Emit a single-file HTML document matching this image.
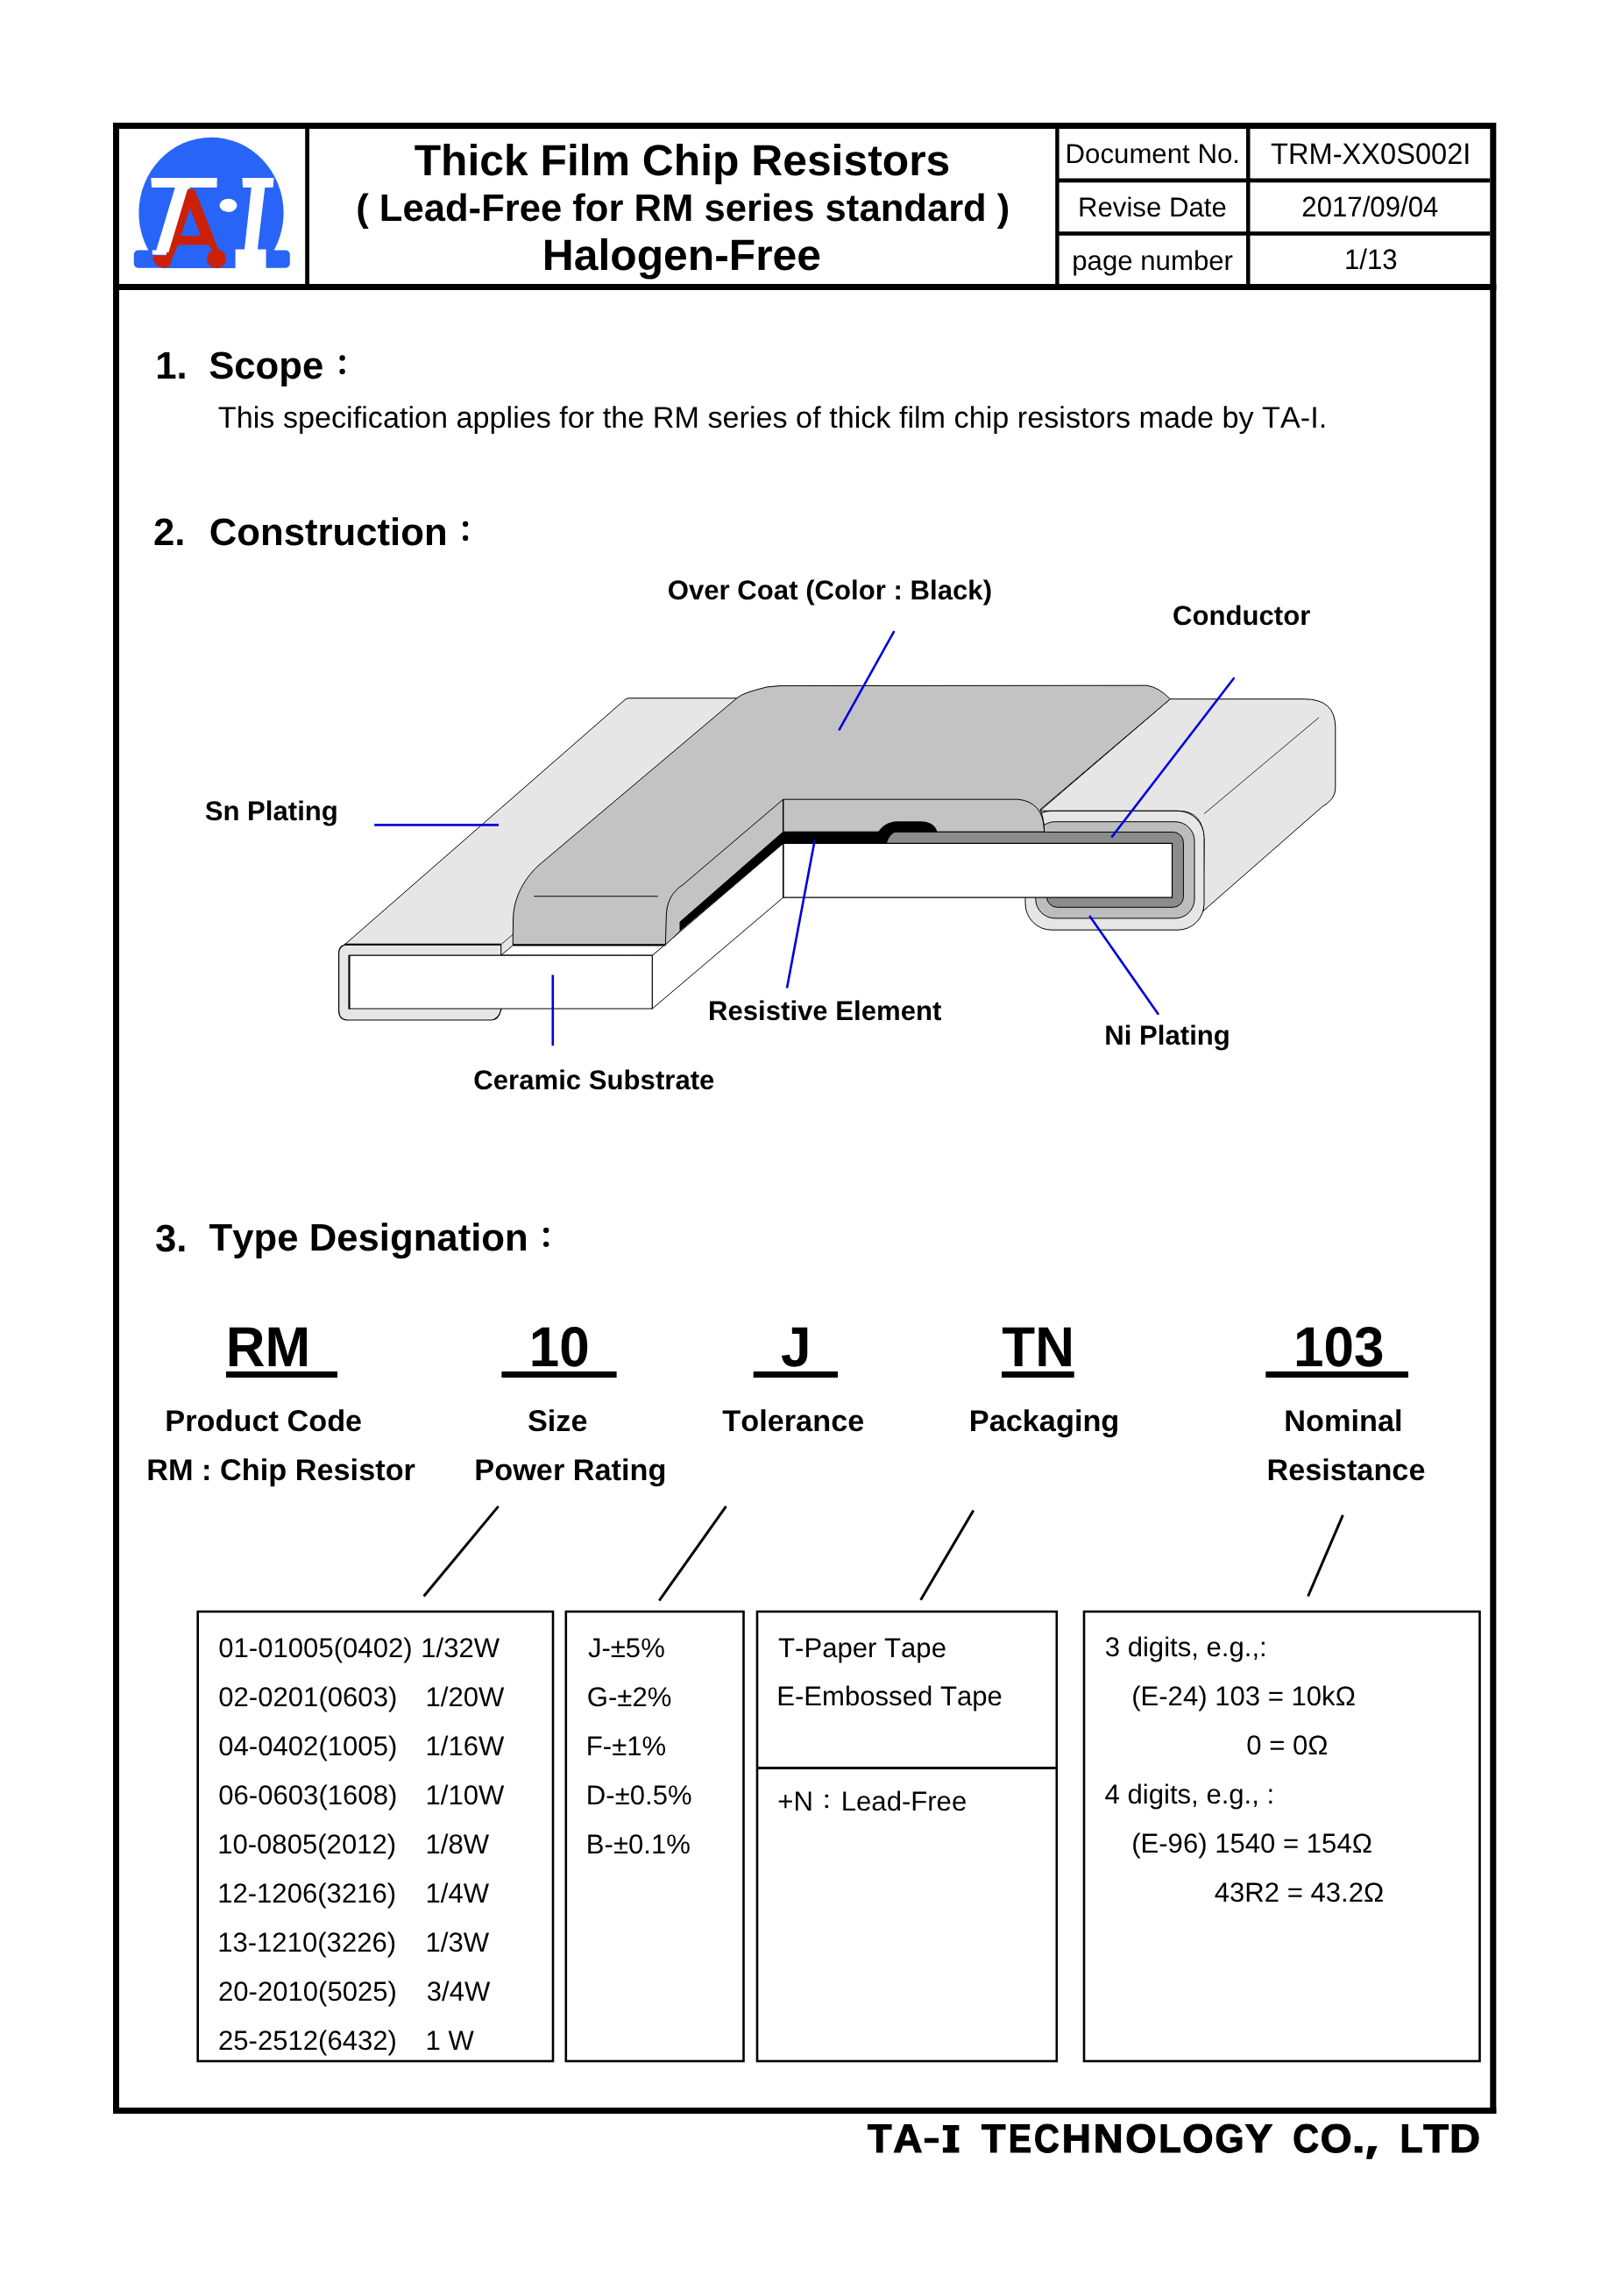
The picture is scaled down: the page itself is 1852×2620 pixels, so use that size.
<!DOCTYPE html>
<html><head><meta charset="utf-8"><title>Thick Film Chip Resistors</title>
<style>
html,body{margin:0;padding:0;background:#fff;}
body{width:1852px;height:2620px;overflow:hidden;}
svg{display:block;will-change:transform;font-family:"Liberation Sans",sans-serif;font-kerning:none;}
text{white-space:pre;}
</style></head><body>
<svg width="1852" height="2620" viewBox="0 0 1852 2620" text-rendering="geometricPrecision">
<rect width="1852" height="2620" fill="#fff"/>
<g id="diagram" stroke-linejoin="round">
<!-- left Sn top face -->
<path d="M393.5,1077.8 L713,798.5 Q715,796.7 718,796.7 L870,796.7 L620,1010 L585.2,1078.4 Z" fill="#e6e6e6" stroke="#000" stroke-width="1"/>
<!-- left front plating wrap -->
<path d="M571.8,1077.8 L397,1077.8 Q386.6,1077.8 386.6,1088 L386.6,1153 Q386.6,1164 397,1164 L560,1164 Q569,1164 571.8,1152 L571.8,1090 Z" fill="#e6e6e6" stroke="#000" stroke-width="1.2"/>
<line x1="393" y1="1077.8" x2="571.8" y2="1077.8" stroke="#000" stroke-width="2"/>
<!-- step face between plating and overcoat -->
<path d="M571.8,1077.8 L585.7,1066 L585.7,1078.6 L571.8,1090.1 Z" fill="#e6e6e6" stroke="#000" stroke-width="0.8"/>
<!-- substrate top strip -->
<path d="M571.8,1090.1 L585.7,1078.4 L759.1,1078.4 L744.4,1090.3 Z" fill="#fff" stroke="#000" stroke-width="0.8"/>
<!-- substrate front -->
<rect x="398.5" y="1090.2" width="345.9" height="60.8" fill="#fff" stroke="#000" stroke-width="1.2"/>
<line x1="398.5" y1="1090" x2="398.5" y2="1151.5" stroke="#000" stroke-width="2"/>
<!-- side face of substrate at cut -->
<path d="M744.4,1090.3 L893.7,962.5 L893.7,1024.2 L744.4,1151 Z" fill="#fff" stroke="#000" stroke-width="1"/>
<!-- right end top + side face -->
<path d="M1186.7,925.3 L1335.3,797.7 L1488.3,797.7 Q1523.8,797.7 1523.8,830 L1523.8,900 Q1523.8,912 1508.3,921 L1373,1039.5 L1374,960 Q1374,925.3 1344.2,925.3 Z" fill="#e6e6e6" stroke="#000" stroke-width="1"/>
<line x1="1505" y1="818.8" x2="1374.1" y2="928.6" stroke="#000" stroke-width="0.8"/>
<!-- right end cross-section layers -->
<rect x="1170" y="925.4" width="204" height="135.8" rx="30" ry="30" fill="#e6e6e6" stroke="#000" stroke-width="1"/>
<rect x="1181.8" y="937.7" width="181.2" height="110.2" rx="22" ry="22" fill="#bdbdbd" stroke="#000" stroke-width="1"/>
<rect x="1194.4" y="949.5" width="156" height="85.8" rx="12" ry="12" fill="#8c8c8c" stroke="#000" stroke-width="1"/>
<!-- conductor strip top -->
<path d="M1012,962.5 Q1012,949.5 1025,949.5 L1260,949.5 L1260,962.5 Z" fill="#8c8c8c"/>
<line x1="1020" y1="949.5" x2="1260" y2="949.5" stroke="#000" stroke-width="1"/>
<!-- substrate cross-section -->
<rect x="893.7" y="962.3" width="443.8" height="61.9" fill="#fff" stroke="#000" stroke-width="1.2"/>
<!-- overcoat -->
<path d="M585.2,1078.4 L585.6,1049 C585.8,1028 595,1006 614,988 L838,799 Q845,792 860,788 Q875,782.6 890,782.6 L1308.7,782.2 Q1322,784 1335.3,797.7 L1187,923.7 Q1191.6,935 1191.6,949.2 L893.7,949.2 L776,1052 L776,1062.6 L759.1,1078.4 Z" fill="#c3c3c3" stroke="#000" stroke-width="1"/>
<line x1="585.2" y1="1078.4" x2="759.1" y2="1078.4" stroke="#000" stroke-width="2.2"/>
<path d="M759.3,1078.4 L760.3,1046.5 C760.5,1030 766,1018 780,1009 L893.7,912.2" fill="none" stroke="#000" stroke-width="1"/>
<path d="M893.7,912.2 L1161.7,912.2 Q1190,915 1191.6,946.5" fill="none" stroke="#000" stroke-width="1"/>
<line x1="893.7" y1="912.2" x2="893.7" y2="1024.2" stroke="#000" stroke-width="1.5"/>
<line x1="609.3" y1="1022.8" x2="750.7" y2="1022.8" stroke="#000" stroke-width="1"/>
<!-- resistive element -->
<path d="M776,1062.6 L893.7,962.5 L893.7,949.2 L776,1052 Z" fill="#000"/>
<path d="M893.7,949.2 L1002,949.2 Q1010,937.2 1025,937.2 L1050,937.2 Q1066,937.2 1069.6,949.2 L1025,949.2 Q1015,950 1012,962.5 L893.7,962.5 Z" fill="#000"/>
<!-- blue pointers -->
<g stroke="#0000dc" stroke-width="2.6" stroke-linecap="butt">
<line x1="427.2" y1="941.4" x2="569" y2="941.4"/>
<line x1="1020.4" y1="720.1" x2="957.3" y2="833.3"/>
<line x1="1408.5" y1="773.3" x2="1268.3" y2="955.6"/>
<line x1="929.8" y1="958" x2="898" y2="1127.5"/>
<line x1="630.8" y1="1112.5" x2="630.8" y2="1193.3"/>
<line x1="1243.2" y1="1045" x2="1322" y2="1157.8"/>
</g>
</g>

<g id="logo">
<clipPath id="lc"><rect x="140" y="150" width="200" height="156"/></clipPath>
<ellipse cx="241" cy="242.8" rx="82.6" ry="86" fill="#2864f8" clip-path="url(#lc)"/>
<rect x="152.8" y="285.6" width="178" height="20.2" rx="5" fill="#2864f8"/>
<path d="M172.3,203 L247.7,203 L247.5,214 L173,214 Z" fill="#fff"/>
<path d="M199.7,214 L216.5,214 L193,290.6 L176.8,290.6 Z" fill="#fff"/>
<path d="M173.8,285.4 L193,285.4 L192,290.6 L173.8,290.6 Z" fill="#fff"/>
<path fill-rule="evenodd" fill="#cc2008" d="M214,216 L222,216 L250.5,288 L244,288 L238,279.5 L203.5,279.5 L199,288 L187,295 L192.3,288.3 Z M217,238 L206.4,269 L228.9,269 Z"/>
<path fill="#cc2008" d="M175,291.5 L195,291.5 L196,298 L193,304 L186,305.7 L179,303 L174.5,297 Z"/>
<path fill="#cc2008" d="M190,288 L200,288 L196,295 L190,295 Z"/>
<circle cx="247" cy="295.2" r="10.8" fill="#cc2008"/>
<ellipse cx="260.5" cy="234.3" rx="10" ry="7.6" fill="#fff"/>
<path d="M276.4,202.9 L312.6,202.9 L311.5,213.9 L302.3,213.9 L293.9,284.5 L303.6,284.5 L303.6,306 L268.6,306 L268.6,284.5 L279,284.5 L286.8,213.9 L277,213.9 Z" fill="#fff"/>
</g>

<rect x="129" y="140" width="1578" height="7" fill="#000"/>
<rect x="129" y="140" width="7" height="2272" fill="#000"/>
<rect x="1700.3" y="140" width="7" height="2272" fill="#000"/>
<rect x="129" y="2405" width="1578.3" height="7" fill="#000"/>
<rect x="129" y="324" width="1578.3" height="7" fill="#000"/>
<rect x="348.2" y="147" width="4.8" height="177" fill="#000"/>
<rect x="1204.2" y="147" width="4.4" height="177" fill="#000"/>
<rect x="1422" y="147" width="4.5" height="177" fill="#000"/>
<rect x="1208" y="203.5" width="492.3" height="4.8" fill="#000"/>
<rect x="1208" y="264.2" width="492.3" height="4.6" fill="#000"/>
<text x="472.71" y="200.30" font-size="49.80" font-weight="bold" fill="#000">Thick Film Chip Resistors</text>
<text x="406.24" y="252.10" font-size="43.60" font-weight="bold" fill="#000">( Lead-Free for RM series standard )</text>
<text x="618.72" y="307.60" font-size="49.80" font-weight="bold" fill="#000">Halogen-Free</text>
<text x="1215.59" y="186.20" font-size="31.20" font-weight="normal" fill="#000">Document No.</text>
<text x="1450.07" y="187.00" font-size="32.61" font-weight="normal" fill="#000" transform="translate(0,187.00) scale(1,1.04) translate(0,-187.00)">TRM-XX0S002I</text>
<text x="1229.94" y="247.00" font-size="31.20" font-weight="normal" fill="#000">Revise Date</text>
<text x="1485.30" y="247.20" font-size="31.20" font-weight="normal" fill="#000" transform="translate(0,247.20) scale(1,1.04) translate(0,-247.20)">2017/09/04</text>
<text x="1223.22" y="307.50" font-size="31.20" font-weight="normal" fill="#000">page number</text>
<text x="1533.89" y="307.20" font-size="31.20" font-weight="normal" fill="#000" transform="translate(0,307.20) scale(1,1.04) translate(0,-307.20)">1/13</text>
<text x="177.31" y="431.60" font-size="43.70" font-weight="bold" fill="#000">1.</text>
<text x="238.20" y="431.60" font-size="43.70" font-weight="bold" fill="#000">Scope</text>
<circle cx="390.6" cy="408.5" r="3.15"/>
<circle cx="390.6" cy="423.9" r="3.15"/>
<text x="248.81" y="487.70" font-size="34.20" font-weight="normal" fill="#000">This specification applies for the RM series of thick film chip resistors made by TA-I.</text>
<text x="174.97" y="622.00" font-size="43.70" font-weight="bold" fill="#000">2.</text>
<text x="238.77" y="622.00" font-size="43.70" font-weight="bold" fill="#000">Construction</text>
<circle cx="531.1" cy="598" r="3.15"/>
<circle cx="531.1" cy="614" r="3.15"/>
<text x="761.73" y="684.40" font-size="31.15" font-weight="bold" fill="#000">Over Coat (Color : Black)</text>
<text x="1337.92" y="712.50" font-size="31.15" font-weight="bold" fill="#000">Conductor</text>
<text x="233.64" y="936.40" font-size="31.15" font-weight="bold" fill="#000">Sn Plating</text>
<text x="807.93" y="1163.60" font-size="31.15" font-weight="bold" fill="#000">Resistive Element</text>
<text x="540.26" y="1243.30" font-size="31.15" font-weight="bold" fill="#000">Ceramic Substrate</text>
<text x="1260.28" y="1191.70" font-size="31.15" font-weight="bold" fill="#000">Ni Plating</text>
<text x="177.03" y="1427.70" font-size="43.70" font-weight="bold" fill="#000">3.</text>
<text x="238.60" y="1427.30" font-size="43.70" font-weight="bold" fill="#000">Type Designation</text>
<circle cx="623.2" cy="1403.9" r="3.15"/>
<circle cx="623.2" cy="1419.8" r="3.15"/>
<text x="257.64" y="1559.00" font-size="62.00" font-weight="bold" fill="#000" transform="translate(0,1559.00) scale(1,1.04) translate(0,-1559.00)">RM</text>
<text x="603.79" y="1559.00" font-size="62.00" font-weight="bold" fill="#000" transform="translate(0,1559.00) scale(1,1.04) translate(0,-1559.00)">10</text>
<text x="890.91" y="1559.00" font-size="62.00" font-weight="bold" fill="#000" transform="translate(0,1559.00) scale(1,1.04) translate(0,-1559.00)">J</text>
<text x="1143.37" y="1559.00" font-size="62.00" font-weight="bold" fill="#000" transform="translate(0,1559.00) scale(1,1.04) translate(0,-1559.00)">TN</text>
<text x="1476.00" y="1559.00" font-size="62.00" font-weight="bold" fill="#000" transform="translate(0,1559.00) scale(1,1.04) translate(0,-1559.00)">103</text>
<rect x="258" y="1565" width="127" height="7" fill="#000"/>
<rect x="572.4" y="1565" width="131.20000000000005" height="7" fill="#000"/>
<rect x="859.7" y="1565" width="96.29999999999995" height="7" fill="#000"/>
<rect x="1143" y="1565" width="82.70000000000005" height="7" fill="#000"/>
<rect x="1444.3" y="1565" width="162.70000000000005" height="7" fill="#000"/>
<text x="188.36" y="1632.80" font-size="34.30" font-weight="bold" fill="#000">Product Code</text>
<text x="167.16" y="1688.60" font-size="34.30" font-weight="bold" fill="#000">RM : Chip Resistor</text>
<text x="601.93" y="1632.80" font-size="34.30" font-weight="bold" fill="#000">Size</text>
<text x="541.32" y="1688.60" font-size="34.30" font-weight="bold" fill="#000">Power Rating</text>
<text x="824.27" y="1632.80" font-size="34.30" font-weight="bold" fill="#000">Tolerance</text>
<text x="1105.77" y="1632.80" font-size="34.30" font-weight="bold" fill="#000">Packaging</text>
<text x="1465.21" y="1632.80" font-size="34.30" font-weight="bold" fill="#000">Nominal</text>
<text x="1445.42" y="1688.60" font-size="34.30" font-weight="bold" fill="#000">Resistance</text>
<line x1="568.7" y1="1718.9" x2="483.6" y2="1821.5" stroke="#000" stroke-width="3"/>
<line x1="828.5" y1="1718.9" x2="752.2" y2="1826.5" stroke="#000" stroke-width="3"/>
<line x1="1110.8" y1="1723.6" x2="1050.6" y2="1825.7" stroke="#000" stroke-width="3"/>
<line x1="1532.4" y1="1728.8" x2="1492.6" y2="1821.5" stroke="#000" stroke-width="3"/>
<rect x="225.7" y="1839" width="405.3" height="513" fill="none" stroke="#000" stroke-width="2.6"/>
<rect x="645.8" y="1839" width="202.70000000000005" height="513" fill="none" stroke="#000" stroke-width="2.6"/>
<rect x="864" y="1839" width="341.79999999999995" height="513" fill="none" stroke="#000" stroke-width="2.6"/>
<line x1="864" y1="2017.4" x2="1205.8" y2="2017.4" stroke="#000" stroke-width="3"/>
<rect x="1237" y="1839" width="451.5" height="513" fill="none" stroke="#000" stroke-width="2.6"/>
<text x="249.29" y="1890.80" font-size="31.1">01-01005(0402)</text>
<text x="480.33" y="1890.80" font-size="31.1">1/32W</text>
<text x="249.29" y="1946.77" font-size="31.1">02-0201(0603)</text>
<text x="485.53" y="1946.77" font-size="31.1">1/20W</text>
<text x="249.29" y="2002.74" font-size="31.1">04-0402(1005)</text>
<text x="485.53" y="2002.74" font-size="31.1">1/16W</text>
<text x="249.29" y="2058.71" font-size="31.1">06-0603(1608)</text>
<text x="485.53" y="2058.71" font-size="31.1">1/10W</text>
<text x="248.13" y="2114.68" font-size="31.1">10-0805(2012)</text>
<text x="485.53" y="2114.68" font-size="31.1">1/8W</text>
<text x="248.13" y="2170.65" font-size="31.1">12-1206(3216)</text>
<text x="485.53" y="2170.65" font-size="31.1">1/4W</text>
<text x="248.13" y="2226.62" font-size="31.1">13-1210(3226)</text>
<text x="485.53" y="2226.62" font-size="31.1">1/3W</text>
<text x="248.94" y="2282.59" font-size="31.1">20-2010(5025)</text>
<text x="486.72" y="2282.59" font-size="31.1">3/4W</text>
<text x="248.94" y="2338.56" font-size="31.1">25-2512(6432)</text>
<text x="485.53" y="2338.56" font-size="31.1">1 W</text>
<text x="670.91" y="1890.80" font-size="31.1">J-±5%</text>
<text x="669.84" y="1946.77" font-size="31.1">G-±2%</text>
<text x="668.85" y="2002.74" font-size="31.1">F-±1%</text>
<text x="668.85" y="2058.71" font-size="31.1">D-±0.5%</text>
<text x="668.85" y="2114.68" font-size="31.1">B-±0.1%</text>
<text x="888.10" y="1890.50" font-size="31.1" font-weight="normal">T-Paper Tape</text>
<text x="886.25" y="1946.40" font-size="31.1" font-weight="normal">E-Embossed Tape</text>
<text x="887.28" y="2066.30" font-size="31.1" font-weight="normal">+N</text>
<circle cx="943.3" cy="2049.3" r="1.9"/><circle cx="943.3" cy="2061.4" r="1.9"/>
<text x="959.75" y="2066.30" font-size="31.1" font-weight="normal">Lead-Free</text>
<text x="1260.72" y="1890.20" font-size="31.1" font-weight="normal">3 digits, e.g.,:</text>
<text x="1291.17" y="1945.80" font-size="31.1" font-weight="normal">(E-24) 103 = 10kΩ</text>
<text x="1422.29" y="2002.00" font-size="31.1" font-weight="normal">0 = 0Ω</text>
<text x="1260.59" y="2058.00" font-size="31.1" font-weight="normal">4 digits, e.g., :</text>
<text x="1291.17" y="2114.10" font-size="31.1" font-weight="normal">(E-96) 1540 = 154Ω</text>
<text x="1385.69" y="2170.00" font-size="31.1" font-weight="normal">43R2 = 43.2Ω</text>
<text transform="translate(989.89,2456.00) scale(0.9826,1)" font-size="45.80" font-weight="bold" stroke="#000" stroke-width="1.2">T</text>
<text transform="translate(1019.25,2456.00) scale(1.0056,1)" font-size="45.80" font-weight="bold" stroke="#000" stroke-width="1.2">A</text>
<text transform="translate(1120.09,2456.00) scale(0.9826,1)" font-size="45.80" font-weight="bold" stroke="#000" stroke-width="1.2">T</text>
<text transform="translate(1150.66,2456.00) scale(0.8601,1)" font-size="45.80" font-weight="bold" stroke="#000" stroke-width="1.2">E</text>
<text transform="translate(1179.97,2456.00) scale(0.8683,1)" font-size="45.80" font-weight="bold" stroke="#000" stroke-width="1.2">C</text>
<text transform="translate(1211.83,2456.00) scale(1.0028,1)" font-size="45.80" font-weight="bold" stroke="#000" stroke-width="1.2">H</text>
<text transform="translate(1247.76,2456.00) scale(1.0251,1)" font-size="45.80" font-weight="bold" stroke="#000" stroke-width="1.2">N</text>
<text transform="translate(1284.23,2456.00) scale(0.9930,1)" font-size="45.80" font-weight="bold" stroke="#000" stroke-width="1.2">O</text>
<text transform="translate(1322.20,2456.00) scale(0.9147,1)" font-size="45.80" font-weight="bold" stroke="#000" stroke-width="1.2">L</text>
<text transform="translate(1349.14,2456.00) scale(0.9899,1)" font-size="45.80" font-weight="bold" stroke="#000" stroke-width="1.2">O</text>
<text transform="translate(1386.46,2456.00) scale(0.9286,1)" font-size="45.80" font-weight="bold" stroke="#000" stroke-width="1.2">G</text>
<text transform="translate(1420.70,2456.00) scale(1.0266,1)" font-size="45.80" font-weight="bold" stroke="#000" stroke-width="1.2">Y</text>
<text transform="translate(1475.21,2456.00) scale(0.8983,1)" font-size="45.80" font-weight="bold" stroke="#000" stroke-width="1.2">C</text>
<text transform="translate(1506.81,2456.00) scale(1.0056,1)" font-size="45.80" font-weight="bold" stroke="#000" stroke-width="1.2">O</text>
<text transform="translate(1597.46,2456.00) scale(0.9275,1)" font-size="45.80" font-weight="bold" stroke="#000" stroke-width="1.2">L</text>
<text transform="translate(1624.17,2456.00) scale(1.0271,1)" font-size="45.80" font-weight="bold" stroke="#000" stroke-width="1.2">T</text>
<text transform="translate(1654.05,2456.00) scale(1.0609,1)" font-size="45.80" font-weight="bold" stroke="#000" stroke-width="1.2">D</text>
<path d="M1545.8,2449 L1554.6,2449 L1554.6,2456.4 L1545.8,2456.4 Z M1561.5,2449 L1571.6,2449 L1565.5,2463.8 L1559.1,2463.8 Z M1054.9,2439.8 L1071.1,2439.8 L1071.1,2445.3 L1054.9,2445.3 Z"/>
<path d="M1075.9,2425 L1094.4,2425 L1094.4,2430.9 L1089.9,2430.9 L1089.9,2450.6 L1094.4,2450.6 L1094.4,2456.4 L1075.9,2456.4 L1075.9,2450.6 L1081.1,2450.6 L1081.1,2430.9 L1075.9,2430.9 Z"/>
</svg>
</body></html>
